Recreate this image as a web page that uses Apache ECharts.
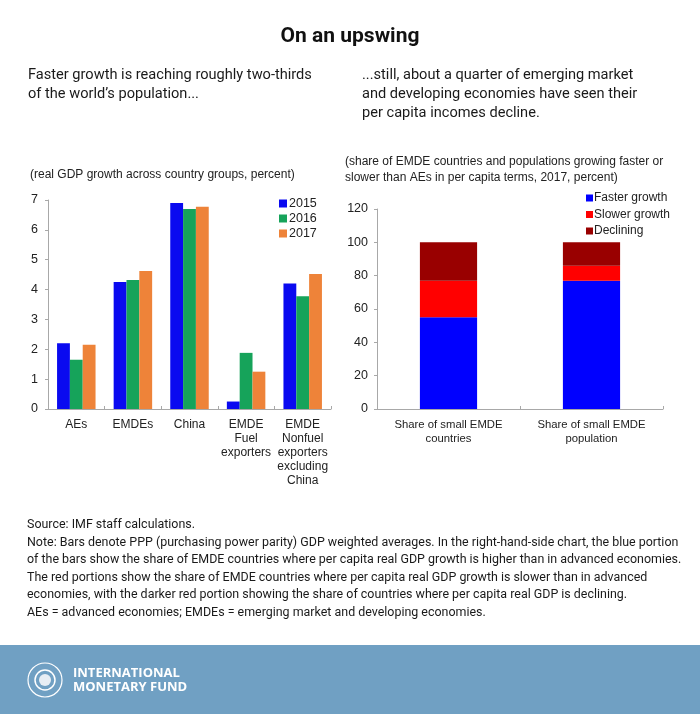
<!DOCTYPE html>
<html><head><meta charset="utf-8">
<script src="https://cdn.jsdelivr.net/npm/echarts@6/dist/echarts.min.js"></script>
<style>html,body{margin:0;padding:0;background:#fff}#c{width:700px;height:714px}</style>
</head><body><div id="c"></div>
<script>
// ---- Left chart data ----
const groupCategories = ['AEs', 'EMDEs', 'China', 'EMDE\nFuel\nexporters', 'EMDE\nNonfuel\nexporters\nexcluding\nChina'];
const years = ['2015', '2016', '2017'];
const growth2015 = [2.2, 4.25, 6.9, 0.25, 4.2];
const growth2016 = [1.65, 4.32, 6.7, 1.88, 3.78];
const growth2017 = [2.15, 4.62, 6.77, 1.25, 4.52];
const growthTicks = [0, 1, 2, 3, 4, 5, 6, 7];

// ---- Right chart data ----
const shareCategories = ['Share of small EMDE\ncountries', 'Share of small EMDE\npopulation'];
const shareNames = ['Faster growth', 'Slower growth', 'Declining'];
const fasterGrowth = [55, 77];
const slowerGrowth = [22, 9];
const declining = [23, 14];
const shareTicks = [0, 20, 40, 60, 80, 100, 120];

const chart = echarts.init(document.getElementById('c'), null, {renderer: 'canvas'});
const axisFont = 'Liberation Sans, Arial, sans-serif';
const txtCol = '#222';
const axisCol = '#a8a8a8';

const yearColors = ['#0a0af0', '#16a35a', '#ee8339'];
const shareColors = ['#0000ff', '#ff0000', '#990000'];
const growthSeries = [growth2015, growth2016, growth2017];
const shareSeries = [fasterGrowth, slowerGrowth, declining];

const series = [];
years.forEach((y, i) => {
  series.push({
    name: y, type: 'bar', xAxisIndex: 0, yAxisIndex: 0,
    data: growthSeries[i], barGap: '0%', barCategoryGap: '32%',
    itemStyle: {color: yearColors[i]}, emphasis: {disabled: true}
  });
});
shareNames.forEach((n, i) => {
  series.push({
    name: n, type: 'bar', stack: 'share', xAxisIndex: 1, yAxisIndex: 1,
    data: shareSeries[i], barCategoryGap: '60%',
    itemStyle: {color: shareColors[i]}, emphasis: {disabled: true}
  });
});

function valueAxis(gi, max, interval) {
  return {
    type: 'value', gridIndex: gi, min: 0, max: max, interval: interval,
    splitLine: {show: false},
    axisLine: {show: true, lineStyle: {color: axisCol, width: 1}},
    axisTick: {show: true, length: 3, lineStyle: {color: axisCol}},
    axisLabel: {color: txtCol, fontSize: 12.5, fontFamily: axisFont, margin: gi === 0 ? 10 : 9}
  };
}
function catAxis(gi, data, fs) {
  return {
    type: 'category', gridIndex: gi, data: data,
    axisLine: {show: true, lineStyle: {color: axisCol, width: 1}},
    axisTick: {show: true, length: 3, inside: true, lineStyle: {color: axisCol}},
    axisLabel: {color: txtCol, fontSize: fs, fontFamily: axisFont, lineHeight: 14, margin: 9, interval: 0}
  };
}

const T = (text, x, y, font, extra) => Object.assign({
  type: 'text', x: x, y: y, silent: true,
  style: Object.assign({text: text, fill: '#111', font: font}, extra || {})
});

chart.setOption({
  animation: false,
  backgroundColor: '#fff',
  grid: [
    {left: 48, right: 369, top: 200, bottom: 305, outerBoundsMode: 'none', containLabel: false},
    {left: 377, right: 37, top: 209, bottom: 305, outerBoundsMode: 'none', containLabel: false}
  ],
  xAxis: [catAxis(0, groupCategories, 12), catAxis(1, shareCategories, 11.3)],
  yAxis: [valueAxis(0, 7, 1), valueAxis(1, 120, 20)],
  legend: [
    {data: years, orient: 'vertical', left: 274, top: 192, itemWidth: 8, itemHeight: 8, itemGap: 2,
     icon: 'rect', selectedMode: false, textStyle: {color: txtCol, fontSize: 12.5, fontFamily: axisFont, padding: [0, 0, 0, -3]}},
    {data: shareNames, orient: 'vertical', left: 581, top: 187, itemWidth: 7, itemHeight: 7, itemGap: 4.5,
     icon: 'rect', selectedMode: false, textStyle: {color: txtCol, fontSize: 12, fontFamily: axisFont, padding: [0, 0, 0, -4]}}
  ],
  series: series,
  graphic: [
    T('On an upswing', 350, 26, 'bold 21px Roboto', {textAlign: 'center'}),
    T('Faster growth is reaching roughly two-thirds\nof the world\u2019s population...', 28, 66, '14.6px Roboto', {lineHeight: 19, fill: '#1a1a1a'}),
    T('...still, about a quarter of emerging market\nand developing economies have seen their\nper capita incomes decline.', 362, 66, '14.6px Roboto', {lineHeight: 19, fill: '#1a1a1a'}),
    T('(real GDP growth across country groups, percent)', 30, 169, '12px ' + axisFont, {fill: txtCol}),
    T('(share of EMDE countries and populations growing faster or\nslower than AEs in per capita terms, 2017, percent)', 345, 154, '12px ' + axisFont, {fill: txtCol, lineHeight: 16}),
    T('Source: IMF staff calculations.\nNote: Bars denote PPP (purchasing power parity) GDP weighted averages. In the right-hand-side chart, the blue portion\nof the bars show the share of EMDE countries where per capita real GDP growth is higher than in advanced economies.\nThe red portions show the share of EMDE countries where per capita real GDP growth is slower than in advanced\neconomies, with the darker red portion showing the share of countries where per capita real GDP is declining.\nAEs = advanced economies; EMDEs = emerging market and developing economies.',
      27, 516, '12.45px Roboto', {lineHeight: 17.6, fill: '#1a1a1a'}),
    {type: 'rect', silent: true, shape: {x: 0, y: 645, width: 700, height: 69}, style: {fill: '#70a0c3'}},
    {type: 'circle', silent: true, shape: {cx: 45, cy: 680, r: 17}, style: {fill: 'none', stroke: '#fff', lineWidth: 1.2}},
    {type: 'circle', silent: true, shape: {cx: 45, cy: 680, r: 10}, style: {fill: 'none', stroke: '#fff', lineWidth: 1.5}},
    {type: 'circle', silent: true, shape: {cx: 45, cy: 680, r: 6}, style: {fill: '#e8eef4', stroke: 'none'}},
    T('INTERNATIONAL\nMONETARY FUND', 73, 666, 'bold 13px "Open Sans"', {fill: '#fff', lineHeight: 14})
  ]
});
</script></body></html>
